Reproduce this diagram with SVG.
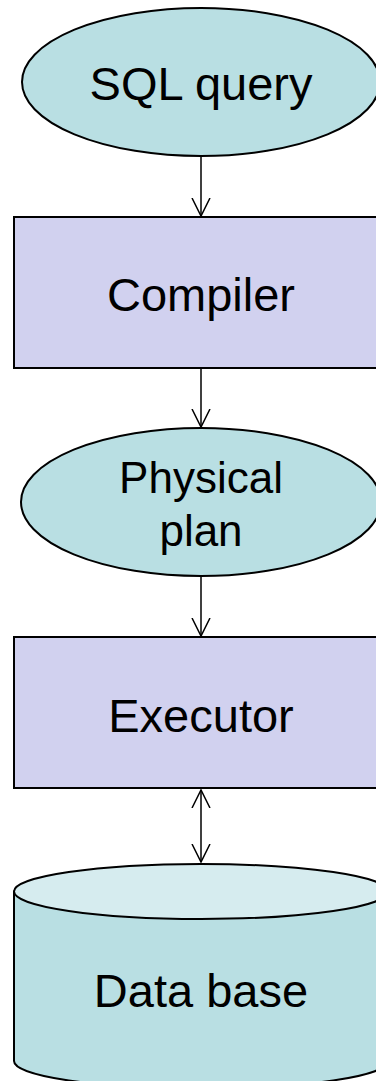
<svg xmlns="http://www.w3.org/2000/svg" width="376" height="1081" viewBox="0 0 376 1081">
  <style>
    .oval { fill: #b9dfe3; stroke: #000; stroke-width: 2; }
    .box { fill: #d1d1ef; stroke: #000; stroke-width: 2; }
    .drum { fill: #b9dfe3; stroke: #000; stroke-width: 2; }
    .drum-top { fill: #d6ecef; stroke: #000; stroke-width: 2; }
    .label { font-family: "Liberation Sans", Arial, sans-serif; font-size: 47px; fill: #000; text-anchor: middle; }
    .label-sm { font-size: 44px; }
    .link { stroke: #000; stroke-width: 1.5; fill: none; }
  </style>
  <defs>
    <marker id="head" viewBox="0 0 20 20" refX="18" refY="10" markerWidth="20" markerHeight="20" markerUnits="userSpaceOnUse" orient="auto-start-reverse">
      <path d="M0,1 L18,10 L0,19" fill="none" stroke="#000" stroke-width="1.5"/>
    </marker>
  </defs>

  <rect width="376" height="1081" fill="#fff"/>

  <g id="connectors">
    <line class="link" x1="201" y1="157" x2="201" y2="216" marker-end="url(#head)"/>
    <line class="link" x1="201" y1="368" x2="201" y2="427" marker-end="url(#head)"/>
    <line class="link" x1="201" y1="577" x2="201" y2="636" marker-end="url(#head)"/>
    <line class="link" x1="201" y1="790" x2="201" y2="862" marker-start="url(#head)" marker-end="url(#head)"/>
  </g>

  <g id="sql-query">
    <ellipse class="oval" cx="201" cy="82" rx="179" ry="74"/>
    <text class="label" x="201" y="100">SQL query</text>
  </g>

  <g id="compiler">
    <rect class="box" x="14" y="217" width="374" height="151"/>
    <text class="label" x="201" y="311">Compiler</text>
  </g>

  <g id="physical-plan">
    <ellipse class="oval" cx="201" cy="502" rx="180" ry="74"/>
    <text class="label label-sm" x="201" y="493">Physical</text>
    <text class="label label-sm" x="201" y="546">plan</text>
  </g>

  <g id="executor">
    <rect class="box" x="14" y="637" width="374" height="151"/>
    <text class="label" x="201" y="732">Executor</text>
  </g>

  <g id="database">
    <path class="drum" d="M14,891.5 L14,1061 A187,27.5 0 0 0 388,1061 L388,891.5 Z"/>
    <ellipse class="drum-top" cx="201" cy="891.5" rx="187" ry="27.5"/>
    <text class="label" x="201" y="1007">Data base</text>
  </g>
</svg>
